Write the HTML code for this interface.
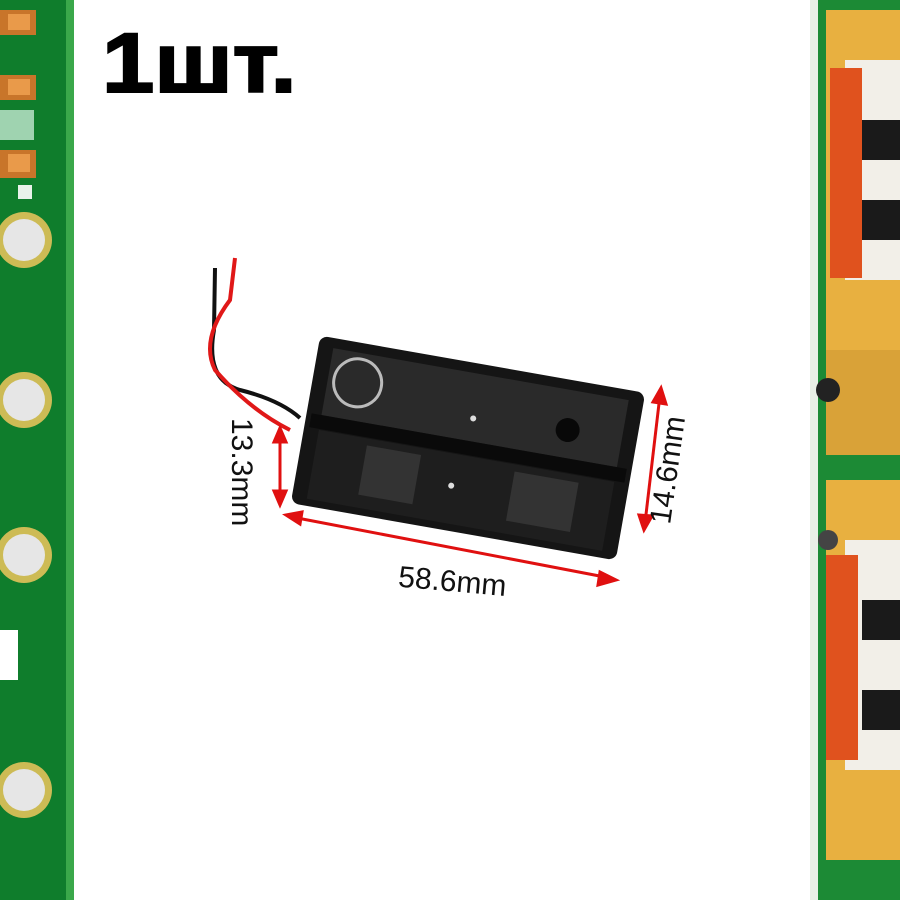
<!DOCTYPE html>
<html><head><meta charset="utf-8"><style>
html,body{margin:0;padding:0;background:#fff;}
svg{display:block}
</style></head><body>
<svg width="900" height="900" viewBox="0 0 900 900" xmlns="http://www.w3.org/2000/svg">
<rect width="900" height="900" fill="#fff"/>
<!-- left PCB strip -->
<rect x="0" y="0" width="84" height="900" fill="#0f7d2c"/>
<rect x="66" y="0" width="8" height="900" fill="#3aa84a"/>
<rect x="74" y="0" width="10" height="900" fill="#fff"/>
<rect x="0" y="10" width="36" height="25" fill="#c8752a"/><rect x="8" y="14" width="22" height="16" fill="#e99a4a"/>
<rect x="0" y="75" width="36" height="25" fill="#c8752a"/><rect x="8" y="79" width="22" height="16" fill="#e99a4a"/>
<rect x="0" y="150" width="36" height="28" fill="#c8752a"/><rect x="8" y="154" width="22" height="18" fill="#e99a4a"/>
<rect x="0" y="110" width="34" height="30" fill="#9fd3b0"/>
<rect x="18" y="185" width="14" height="14" fill="#e8f2ea"/>
<g fill="#cdbb55"><circle cx="24" cy="240" r="28"/><circle cx="24" cy="400" r="28"/><circle cx="24" cy="555" r="28"/><circle cx="24" cy="790" r="28"/></g>
<g fill="#e6e6e6"><circle cx="24" cy="240" r="21"/><circle cx="24" cy="400" r="21"/><circle cx="24" cy="555" r="21"/><circle cx="24" cy="790" r="21"/></g>
<rect x="0" y="630" width="18" height="50" fill="#fff"/>
<!-- right PCB strip -->
<rect x="810" y="0" width="90" height="900" fill="#0f7d2c"/>
<rect x="810" y="0" width="8" height="900" fill="#e8efe6"/>
<rect x="818" y="0" width="82" height="900" fill="#1c8a35"/>
<rect x="826" y="10" width="74" height="440" fill="#e8b040"/>
<rect x="826" y="480" width="74" height="380" fill="#e8b040"/>
<rect x="826" y="350" width="74" height="110" fill="#d9a238"/>
<rect x="820" y="455" width="80" height="25" fill="#1c8a35"/>
<rect x="845" y="60" width="55" height="220" fill="#f2efe8"/>
<rect x="830" y="68" width="32" height="210" fill="#e0521e"/>
<rect x="862" y="120" width="38" height="40" fill="#1a1a1a"/>
<rect x="862" y="200" width="38" height="40" fill="#1a1a1a"/>
<rect x="845" y="540" width="55" height="230" fill="#f2efe8"/>
<rect x="826" y="555" width="32" height="205" fill="#e0521e"/>
<rect x="862" y="600" width="38" height="40" fill="#1a1a1a"/>
<rect x="862" y="690" width="38" height="40" fill="#1a1a1a"/>
<circle cx="828" cy="390" r="12" fill="#222"/>
<circle cx="828" cy="540" r="10" fill="#444"/>
<!-- title -->
<text transform="translate(102,92) scale(1.12,1)" font-family="Liberation Sans, sans-serif" font-weight="bold" font-size="84" fill="#000" stroke="#000" stroke-width="2">1шт.</text>
<!-- wires -->
<path d="M215 268 L214 330 Q205 380 240 390 Q280 400 300 418" stroke="#111" stroke-width="4" fill="none"/>
<path d="M235 258 L230 300 Q200 340 215 370 Q250 410 290 430" stroke="#e01818" stroke-width="4" fill="none"/>
<!-- holder -->
<g transform="translate(468,448) rotate(10)">
<rect x="-165" y="-85" width="330" height="170" rx="8" fill="#151515"/>
<rect x="-150" y="-75" width="300" height="68" fill="#2a2a2a"/>
<rect x="-150" y="8" width="300" height="70" fill="#1e1e1e"/>
<rect x="-160" y="-7" width="320" height="14" fill="#0a0a0a"/>
<circle cx="-120" cy="-45" r="24" fill="none" stroke="#bbb" stroke-width="3"/>
<circle cx="95" cy="-35" r="12" fill="#080808"/>
<circle cx="0" cy="-30" r="3" fill="#ddd"/><circle cx="-10" cy="40" r="3" fill="#ddd"/>
<rect x="-100" y="15" width="55" height="50" fill="#333"/><rect x="50" y="15" width="65" height="50" fill="#333"/>
</g>
<!-- dimension lines -->
<g stroke="#e01010" stroke-width="3" fill="#e01010">
<line x1="292" y1="517" x2="610" y2="578"/>
<polygon points="286,515 302,512 300,524"/><polygon points="616,580 600,572 598,585"/>
<line x1="280" y1="435" x2="280" y2="500"/>
<polygon points="280,428 274,442 286,442"/><polygon points="280,505 274,491 286,491"/>
<line x1="660" y1="395" x2="645" y2="523"/>
<polygon points="661,388 653,402 666,404"/><polygon points="644,530 639,515 652,516"/>
</g>
<g font-family="Liberation Sans, sans-serif" font-size="30" fill="#111">
<text x="398" y="592" transform="rotate(5 460 585)">58.6mm</text>
<text transform="translate(232,418) rotate(90)">13.3mm</text>
<text transform="translate(670,525) rotate(-82)">14.6mm</text>
</g>
</svg>
</body></html>
